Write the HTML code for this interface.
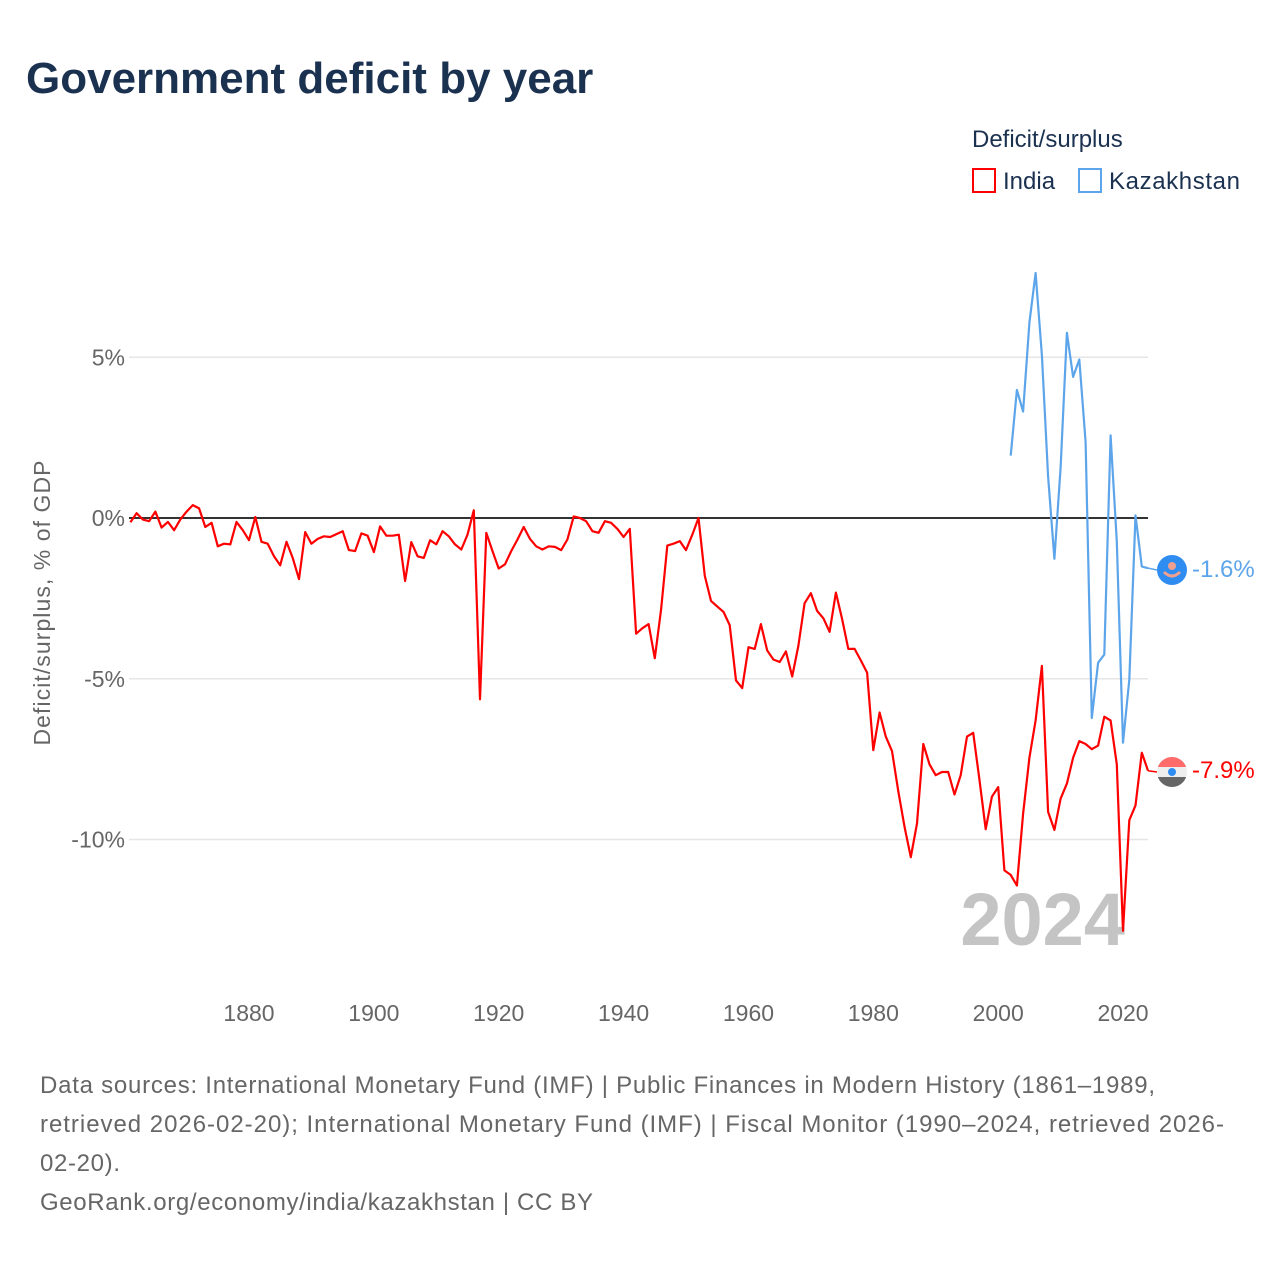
<!DOCTYPE html>
<html><head><meta charset="utf-8"><style>
html,body{margin:0;padding:0;background:#fff;}
body{width:1280px;height:1280px;position:relative;overflow:hidden;font-family:"Liberation Sans",sans-serif;}
svg{position:absolute;left:0;top:0;}
</style></head><body>
<svg id="chart" width="1280" height="1280" viewBox="0 0 1280 1280">
<text x="26" y="93" font-size="44" font-weight="bold" fill="#1b3150">Government deficit by year</text>
<g>
<text x="972" y="147" font-size="24" fill="#1b3150">Deficit/surplus</text>
<rect x="973" y="169" width="22" height="23" fill="#fff" stroke="#ff0000" stroke-width="2"/>
<text x="1003" y="189" font-size="24" fill="#1b3150">India</text>
<rect x="1079" y="169" width="22" height="23" fill="#fff" stroke="#5da5ea" stroke-width="2"/>
<text x="1109" y="189" font-size="24" fill="#1b3150" textLength="131">Kazakhstan</text>
</g>
<g id="grid"></g>
<g id="yticks"></g>
<g id="xticks"></g>
<text transform="translate(50,603) rotate(-90)" text-anchor="middle" font-size="23" fill="#666" textLength="285">Deficit/surplus, % of GDP</text>
<text x="1125" y="945" text-anchor="end" font-size="74" font-weight="bold" fill="#c4c4c4">2024</text>
<g id="series"></g>
<g>
<g>
<circle cx="1172" cy="570" r="15" fill="#2f8cf0"/>
<circle cx="1172" cy="566" r="4" fill="#f0a090"/>
<path d="M1164 572 Q1172 580 1180 572" stroke="#f0a090" stroke-width="3" fill="none"/>
</g>
<g>
<clipPath id="cf"><circle cx="1172" cy="772" r="15"/></clipPath>
<g clip-path="url(#cf)">
<rect x="1157" y="757" width="30" height="10" fill="#ff6b6b"/>
<rect x="1157" y="767" width="30" height="10" fill="#eeeeee"/>
<rect x="1157" y="777" width="30" height="10" fill="#666"/>
<circle cx="1172" cy="772" r="4" fill="#2f8cf0"/>
</g></g>
<text x="1192" y="577" font-size="24" fill="#5da5ea">-1.6%</text>
<text x="1192" y="778" font-size="24" fill="#ff0000">-7.9%</text>
</g>
<g font-size="24" fill="#666">
<text x="40" y="1093" textLength="1115">Data sources: International Monetary Fund (IMF) | Public Finances in Modern History (1861–1989,</text>
<text x="40" y="1132" textLength="1184">retrieved 2026-02-20); International Monetary Fund (IMF) | Fiscal Monitor (1990–2024, retrieved 2026-</text>
<text x="40" y="1171" textLength="80">02-20).</text>
<text x="40" y="1210" textLength="553">GeoRank.org/economy/india/kazakhstan | CC BY</text>
</g>
</svg>
<script>
const indiaStart = 1861;
const indiaValues = [-0.13,0.15,-0.05,-0.1,0.2,-0.3,-0.12,-0.38,-0.05,0.2,0.4,0.3,-0.28,-0.15,-0.88,-0.8,-0.82,-0.12,-0.38,-0.69,
0.03,-0.74,-0.8,-1.19,-1.47,-0.74,-1.24,-1.9,-0.44,-0.8,-0.65,-0.57,-0.59,-0.5,-0.41,-1.0,-1.03,-0.48,-0.55,-1.06,
-0.26,-0.55,-0.55,-0.52,-1.96,-0.75,-1.19,-1.24,-0.69,-0.82,-0.41,-0.57,-0.82,-0.98,-0.52,0.24,-5.64,-0.46,-1.03,-1.57,
-1.44,-1.03,-0.67,-0.28,-0.65,-0.88,-0.98,-0.88,-0.9,-1.0,-0.67,0.05,0,-0.1,-0.41,-0.46,-0.1,-0.15,-0.34,-0.59,
-0.34,-3.6,-3.43,-3.3,-4.36,-2.84,-0.86,-0.8,-0.72,-1.0,-0.52,0,-1.8,-2.58,-2.75,-2.92,-3.33,-5.05,-5.29,-4.02,
-4.07,-3.3,-4.12,-4.4,-4.48,-4.15,-4.93,-3.97,-2.65,-2.34,-2.89,-3.12,-3.54,-2.32,-3.14,-4.07,-4.07,-4.43,-4.81,-7.22,
-6.05,-6.8,-7.25,-8.5,-9.6,-10.55,-9.5,-7.03,-7.66,-8.0,-7.9,-7.9,-8.6,-8.0,-6.8,-6.68,-8.13,-9.68,-8.67,-8.37,
-10.96,-11.1,-11.43,-9.2,-7.46,-6.3,-4.6,-9.14,-9.7,-8.73,-8.26,-7.46,-6.94,-7.03,-7.19,-7.08,-6.18,-6.3,-7.66,-12.84,
-9.4,-8.94,-7.3,-7.86];
const kazStart = 2002;
const kazValues = [1.94,3.98,3.31,6.07,7.62,5.06,1.29,-1.27,1.56,5.76,4.39,4.93,2.37,-6.22,-4.5,-4.25,2.57,-0.73,-6.99,-5.03,0.08,-1.51,-1.56];
const yTicks = [5,0,-5,-10];
const xTicks = [1880,1900,1920,1940,1960,1980,2000,2020];

const NS = 'http://www.w3.org/2000/svg';
const X0 = 130.4, PXY = 6.243, Y0 = 518, PXV = 32.15;
function xs(yr){return X0 + (yr-1861)*PXY;}
function ys(v){return Y0 - v*PXV;}
function mk(tag, attrs){const e=document.createElementNS(NS,tag);for(const k in attrs)e.setAttribute(k,attrs[k]);return e;}

const grid=document.getElementById('grid'), yt=document.getElementById('yticks'), xt=document.getElementById('xticks'), ser=document.getElementById('series');
yTicks.forEach(v=>{
  if(v!==0){
    const l=mk('line',{x1:129,x2:1148,y1:ys(v),y2:ys(v),stroke:'#e6e6e6','stroke-width':1.5});
    
    
    grid.appendChild(l);
  }
  const t=mk('text',{x:125,y:ys(v)+8,'text-anchor':'end','font-size':23,fill:'#666'});
  t.textContent=v+'%';
  
  
  yt.appendChild(t);
});
xTicks.forEach(yr=>{
  const t=mk('text',{x:xs(yr),y:1021,'text-anchor':'middle','font-size':23,fill:'#666'});
  t.textContent=yr;
  
  
  xt.appendChild(t);
});
function pts(start, vals){return vals.map((v,i)=>xs(start+i).toFixed(1)+','+ys(v).toFixed(1)).join(' ');}
const ind=mk('polyline',{points:pts(indiaStart,indiaValues),fill:'none',stroke:'#ff0000','stroke-width':2.2,'stroke-linejoin':'round'});


ser.appendChild(ind);
const kz=mk('polyline',{points:pts(kazStart,kazValues),fill:'none',stroke:'#5da5ea','stroke-width':2.2,'stroke-linejoin':'round'});


ser.appendChild(kz);
const zl=mk('line',{x1:129,x2:1148,y1:ys(0),y2:ys(0),stroke:'#333','stroke-width':2});


ser.insertBefore(zl, ser.firstChild);
const lk=indiaValues.length-1, kk=kazValues.length-1;
const c1=mk('line',{x1:xs(indiaStart+lk),x2:1157,y1:ys(indiaValues[lk]),y2:772,stroke:'#ff0000','stroke-width':1.5});


ser.appendChild(c1);
const c2=mk('line',{x1:xs(kazStart+kk),x2:1157,y1:ys(kazValues[kk]),y2:570,stroke:'#5da5ea','stroke-width':1.5});


ser.appendChild(c2);
</script>
</body></html>
